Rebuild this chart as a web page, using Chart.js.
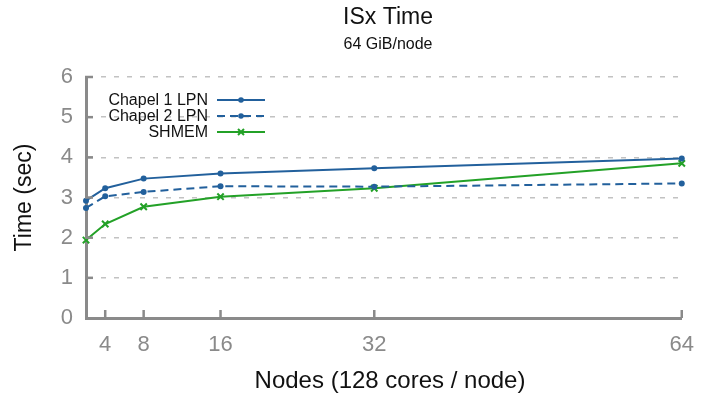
<!DOCTYPE html>
<html>
<head>
<meta charset="utf-8">
<script src="https://cdn.jsdelivr.net/npm/chart.js@4/dist/chart.umd.min.js"></script>
<style>
html,body{margin:0;padding:0;background:#fff;}
#wrap{width:708px;height:395px;position:relative;}
</style>
</head>
<body>
<div id="wrap"><canvas id="c"></canvas></div>
<script>
const nodes = [2, 4, 8, 16, 32, 64];
const xTickValues = [4, 8, 16, 32, 64];
const yTickValues = [0, 1, 2, 3, 4, 5, 6];
const chapel1 = [2.92, 3.23, 3.47, 3.60, 3.73, 3.97];
const chapel2 = [2.74, 3.03, 3.14, 3.28, 3.27, 3.35];
const shmem = [1.94, 2.34, 2.77, 3.02, 3.23, 3.85];
const seriesNames = ['Chapel 1 LPN', 'Chapel 2 LPN', 'SHMEM'];
const titleText = 'ISx Time';
const subtitleText = '64 GiB/node';
const xTitle = 'Nodes (128 cores / node)';
const yTitle = 'Time (sec)';

const BLUE = '#22609c';
const GREEN = '#23a127';
const AXIS = '#8a8a8a';
const FONT = "'Liberation Sans', Arial, sans-serif";

const pts = arr => nodes.map((n, i) => ({x: n, y: arr[i]}));

const decor = {
  id: 'decor',
  afterDraw(chart) {
    const ctx = chart.ctx;
    const xs = chart.scales.x, ys = chart.scales.y;
    const ca = chart.chartArea;
    ctx.save();
    // titles
    ctx.fillStyle = '#111';
    ctx.textAlign = 'center';
    ctx.textBaseline = 'middle';
    ctx.font = '23px ' + FONT;
    ctx.fillText(titleText, 388, 18);
    ctx.font = '16px ' + FONT;
    ctx.fillText(subtitleText, 388, 45);
    // x axis title
    ctx.font = '24px ' + FONT;
    ctx.fillText(xTitle, 390, 381);
    // inner ticks
    ctx.strokeStyle = AXIS;
    ctx.lineWidth = 2.5;
    xTickValues.forEach(v => {
      const px = xs.getPixelForValue(v);
      ctx.beginPath(); ctx.moveTo(px, ca.bottom); ctx.lineTo(px, ca.bottom - 8); ctx.stroke();
    });
    yTickValues.slice(1).forEach(v => {
      const py = ys.getPixelForValue(v);
      ctx.beginPath(); ctx.moveTo(ca.left - 1, py); ctx.lineTo(ca.left + 7, py); ctx.stroke();
    });
    // legend
    const rows = [100, 116, 132];
    chart.data.datasets.forEach((ds, i) => {
      const y = rows[i];
      ctx.fillStyle = '#111';
      ctx.font = '16px ' + FONT;
      ctx.textAlign = 'right';
      ctx.textBaseline = 'middle';
      ctx.fillText(ds.label, 208, y + 1);
      ctx.strokeStyle = ds.borderColor;
      ctx.lineWidth = 2;
      ctx.setLineDash(ds.borderDash || []);
      ctx.beginPath(); ctx.moveTo(217, y); ctx.lineTo(265, y); ctx.stroke();
      ctx.setLineDash([]);
      const mx = 241;
      ctx.fillStyle = ds.borderColor;
      if (ds.pointStyle === 'crossRot') {
        ctx.lineWidth = 2;
        ctx.beginPath();
        ctx.moveTo(mx - 3, y - 3); ctx.lineTo(mx + 3, y + 3);
        ctx.moveTo(mx + 3, y - 3); ctx.lineTo(mx - 3, y + 3);
        ctx.stroke();
      } else {
        ctx.beginPath(); ctx.arc(mx, y, 2.8, 0, Math.PI * 2); ctx.fill();
      }
    });
    ctx.restore();
  }
};

new Chart(document.getElementById('c'), {
  type: 'line',
  data: {
    datasets: [
      {label: seriesNames[0], data: pts(chapel1), borderColor: BLUE, backgroundColor: BLUE,
       borderWidth: 2, pointRadius: 3, pointStyle: 'circle', pointBorderWidth: 0, tension: 0, clip: false},
      {label: seriesNames[1], data: pts(chapel2), borderColor: BLUE, backgroundColor: BLUE,
       borderWidth: 2, borderDash: [8, 5], pointRadius: 3, pointStyle: 'circle', pointBorderWidth: 0, tension: 0, clip: false},
      {label: seriesNames[2], data: pts(shmem), borderColor: GREEN, backgroundColor: GREEN,
       borderWidth: 2, pointRadius: 4.5, pointStyle: 'crossRot', pointBorderWidth: 2, tension: 0, clip: false}
    ]
  },
  options: {
    responsive: true,
    maintainAspectRatio: false,
    animation: false,
    layout: {padding: {top: 77, right: 19, left: 0, bottom: 0}},
    plugins: {legend: {display: false}, title: {display: false}, tooltip: {enabled: false}},
    scales: {
      x: {
        type: 'linear', min: 2, max: 64,
        afterBuildTicks: s => { s.ticks = xTickValues.map(v => ({value: v})); },
        afterFit: s => { s.height = 77; },
        grid: {display: false, drawTicks: false},
        border: {display: true, color: AXIS, width: 3},
        ticks: {color: AXIS, font: {size: 22, family: FONT}, padding: 14, maxRotation: 0, autoSkip: false},
        title: {display: false, text: xTitle}
      },
      y: {
        min: 0, max: 6,
        afterBuildTicks: s => { s.ticks = yTickValues.map(v => ({value: v})); },
        afterFit: s => { s.width = 86; },
        grid: {
          drawTicks: false,
          color: c => c.tick.value === 0 ? 'rgba(0,0,0,0)' : '#c2c2c2',
          lineWidth: 1.5
        },
        border: {display: true, color: AXIS, width: 3, dash: [5, 8], dashOffset: 0},
        ticks: {color: AXIS, font: {size: 22, family: FONT}, padding: 13},
        title: {display: true, text: yTitle, color: '#111', font: {size: 23, family: FONT}, padding: {top: 11, bottom: 0}}
      }
    }
  },
  plugins: [decor]
});
</script>
</body>
</html>
